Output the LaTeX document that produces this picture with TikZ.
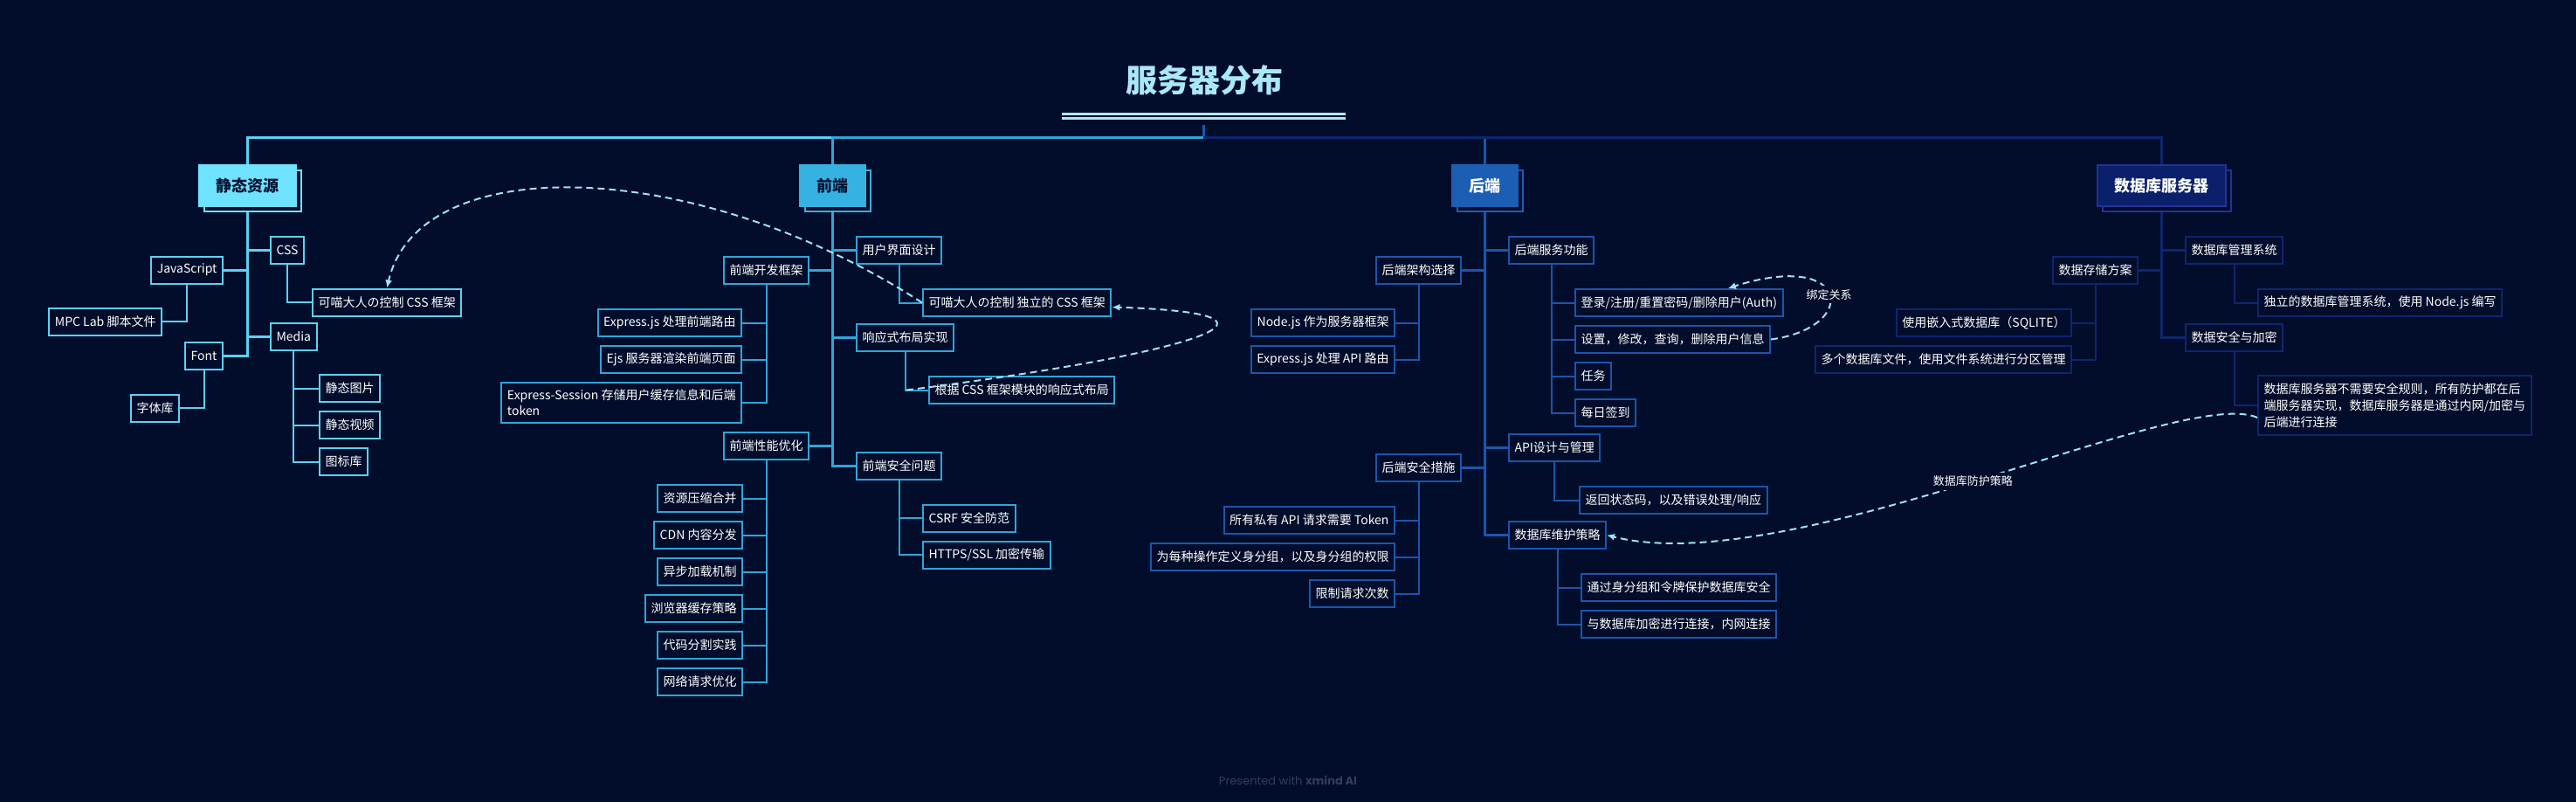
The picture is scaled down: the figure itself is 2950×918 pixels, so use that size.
\documentclass[tikz,border=0pt]{standalone}
\usepackage{fontspec}
\setmainfont{Noto Sans CJK SC}
\newfontfamily\creditfont{Poppins}
\usepackage{tikz}
\usetikzlibrary{arrows.meta, positioning, shadows, backgrounds}
\definecolor{mapbg}{RGB}{1,13,42}
\definecolor{titlecyan}{RGB}{170,232,248}
\definecolor{statfill}{RGB}{110,226,255}
\definecolor{statline}{RGB}{90,210,245}
\definecolor{frontfill}{RGB}{54,178,226}
\definecolor{frontline}{RGB}{46,166,216}
\definecolor{backfill}{RGB}{28,94,180}
\definecolor{backline}{RGB}{26,86,172}
\definecolor{dbfill}{RGB}{10,32,106}
\definecolor{dbline}{RGB}{14,38,112}
\definecolor{dbedge}{RGB}{36,50,150}
\definecolor{relcyan}{RGB}{160,226,245}
\definecolor{darktext}{RGB}{4,18,48}
\definecolor{footgray}{RGB}{52,62,88}

\begin{document}
\begin{tikzpicture}[
    x=1pt, y=-1pt,
    topic_base/.style={line width=2pt, minimum height=47pt, inner xsep=19.5pt, inner ysep=0pt, font=\fontsize{18}{22}\selectfont\bfseries},
    main_stat/.style={topic_base, fill=statfill, draw=statfill, text=darktext,
        copy shadow={shadow xshift=6pt, shadow yshift=-6pt, fill=mapbg, draw=statfill, line width=2pt}},
    main_front/.style={topic_base, fill=frontfill, draw=frontfill, text=darktext,
        copy shadow={shadow xshift=6pt, shadow yshift=-6pt, fill=mapbg, draw=frontfill, line width=2pt}},
    main_back/.style={topic_base, fill=backfill, draw=backfill, text=white,
        copy shadow={shadow xshift=6pt, shadow yshift=-6pt, fill=mapbg, draw=backfill, line width=2pt}},
    main_db/.style={topic_base, fill=dbfill, draw=dbedge, text=white,
        copy shadow={shadow xshift=6pt, shadow yshift=-6pt, fill=mapbg, draw=dbedge, line width=2pt}},
    leaf_base/.style={line width=2pt, fill=mapbg, text=white, minimum height=31pt, inner xsep=6.5pt, inner ysep=0pt, font=\fontsize{14}{18}\selectfont},
    leaf_stat/.style={leaf_base, draw=statline},
    leaf_front/.style={leaf_base, draw=frontline},
    leaf_back/.style={leaf_base, draw=backline},
    leaf_db/.style={leaf_base, draw=dbline},
    trunk_line/.style={line width=3pt},
    twig_line/.style={line width=2pt},
    relation/.style={draw=relcyan, line width=2pt, dash pattern=on 8pt off 5pt, -{Latex[length=9pt, width=8pt]}},
    rel_label/.style={fill=mapbg, text=white, inner sep=4pt, font=\fontsize{13}{15}\selectfont}
]

    % Canvas
    \begin{scope}[on background layer]
        \fill[mapbg] (0,0) rectangle (2950,918);
    \end{scope}
    \useasboundingbox (0,0) rectangle (2950,918);

    % Title with double rule
    \node[font=\fontsize{36}{40}\selectfont\bfseries, text=titlecyan] (title) at (1379,92) {服务器分布};
    \draw[titlecyan, line width=2.7pt, double=mapbg, double distance=2.7pt] (1216,133) -- (1541,133);
    \coordinate (stem_top) at (1378,143);
    \coordinate (hub) at (1378,157);

    % Main topics
    \node[main_stat] (stat) at (283,212.5) {静态资源};
    \node[main_front] (front) at (953.5,212.5) {前端};
    \node[main_back] (back) at (1700.5,212.5) {后端};
    \node[main_db] (db) at (2475,212.5) {数据库服务器};

    % 静态资源 branch
    \node[leaf_stat, anchor=west] (stat_css) at (309,286) {CSS};
    \node[leaf_stat, anchor=east] (stat_js) at (256,309) {JavaScript};
    \node[leaf_stat, anchor=west] (stat_media) at (309,385) {Media};
    \node[leaf_stat, anchor=east] (stat_font) at (256,407) {Font};
    \node[leaf_stat, anchor=west] (stat_css_fw) at (357,346) {可喵大人の控制 CSS 框架};
    \node[leaf_stat, anchor=east] (stat_js_mpc) at (186,368) {MPC Lab 脚本文件};
    \node[leaf_stat, anchor=east] (stat_font_lib) at (206,467) {字体库};
    \node[leaf_stat, anchor=west] (stat_img) at (365,444.5) {静态图片};
    \node[leaf_stat, below=9pt of stat_img.south west, anchor=north west] (stat_video) {静态视频};
    \node[leaf_stat, below=9pt of stat_video.south west, anchor=north west] (stat_icon) {图标库};

    % 前端 branch
    \node[leaf_front, anchor=west] (front_ui) at (980,286.5) {用户界面设计};
    \node[leaf_front, anchor=east] (front_dev) at (927,309.5) {前端开发框架};
    \node[leaf_front, anchor=west] (front_resp) at (980,386.5) {响应式布局实现};
    \node[leaf_front, anchor=east] (front_perf) at (927,510.5) {前端性能优化};
    \node[leaf_front, anchor=west] (front_sec) at (980,533) {前端安全问题};
    \node[leaf_front, anchor=west] (front_ui_css) at (1056,346.5) {可喵大人の控制 独立的 CSS 框架};
    \node[leaf_front, anchor=west] (front_resp_css) at (1063,446.5) {根据 CSS 框架模块的响应式布局};
    \node[leaf_front, anchor=east] (front_dev_route) at (850,369.5) {Express.js 处理前端路由};
    \node[leaf_front, below=9pt of front_dev_route.south east, anchor=north east] (front_dev_ejs) {Ejs 服务器渲染前端页面};
    \node[leaf_front, below=9pt of front_dev_ejs.south east, anchor=north east, align=left, inner ysep=8pt] (front_dev_session) {Express-Session 存储用户缓存信息和后端\\token};
    \node[leaf_front, anchor=east] (front_perf_zip) at (851,570.5) {资源压缩合并};
    \node[leaf_front, below=9pt of front_perf_zip.south east, anchor=north east] (front_perf_cdn) {CDN 内容分发};
    \node[leaf_front, below=9pt of front_perf_cdn.south east, anchor=north east] (front_perf_async) {异步加载机制};
    \node[leaf_front, below=9pt of front_perf_async.south east, anchor=north east] (front_perf_cache) {浏览器缓存策略};
    \node[leaf_front, below=9pt of front_perf_cache.south east, anchor=north east] (front_perf_split) {代码分割实践};
    \node[leaf_front, below=9pt of front_perf_split.south east, anchor=north east] (front_perf_net) {网络请求优化};
    \node[leaf_front, anchor=west] (front_sec_csrf) at (1056,593) {CSRF 安全防范};
    \node[leaf_front, below=9pt of front_sec_csrf.south west, anchor=north west] (front_sec_https) {HTTPS/SSL 加密传输};

    % 后端 branch
    \node[leaf_back, anchor=west] (back_svc) at (1727,286.5) {后端服务功能};
    \node[leaf_back, anchor=east] (back_arch) at (1674,309.5) {后端架构选择};
    \node[leaf_back, anchor=west] (back_api) at (1727,512.5) {API设计与管理};
    \node[leaf_back, anchor=east] (back_sec) at (1674,535.5) {后端安全措施};
    \node[leaf_back, anchor=west] (back_dbm) at (1727,612.5) {数据库维护策略};
    \node[leaf_back, anchor=west] (back_svc_auth) at (1803,346.5) {登录/注册/重置密码/删除用户(Auth)};
    \node[leaf_back, below=9pt of back_svc_auth.south west, anchor=north west] (back_svc_info) {设置，修改，查询，删除用户信息};
    \node[leaf_back, below=9pt of back_svc_info.south west, anchor=north west] (back_svc_task) {任务};
    \node[leaf_back, below=9pt of back_svc_task.south west, anchor=north west] (back_svc_sign) {每日签到};
    \node[leaf_back, anchor=east] (back_arch_node) at (1598,369.5) {Node.js 作为服务器框架};
    \node[leaf_back, below=9pt of back_arch_node.south east, anchor=north east] (back_arch_express) {Express.js 处理 API 路由};
    \node[leaf_back, anchor=west] (back_api_code) at (1808,572.5) {返回状态码，以及错误处理/响应};
    \node[leaf_back, anchor=east] (back_sec_token) at (1598,595.5) {所有私有 API 请求需要 Token};
    \node[leaf_back, below=9pt of back_sec_token.south east, anchor=north east] (back_sec_group) {为每种操作定义身分组，以及身分组的权限};
    \node[leaf_back, below=9pt of back_sec_group.south east, anchor=north east] (back_sec_limit) {限制请求次数};
    \node[leaf_back, anchor=west] (back_dbm_guard) at (1810,672.5) {通过身分组和令牌保护数据库安全};
    \node[leaf_back, below=9pt of back_dbm_guard.south west, anchor=north west] (back_dbm_link) {与数据库加密进行连接，内网连接};

    % 数据库服务器 branch
    \node[leaf_db, anchor=west] (db_mgmt) at (2502,286.5) {数据库管理系统};
    \node[leaf_db, anchor=east] (db_store) at (2449,309.5) {数据存储方案};
    \node[leaf_db, anchor=west] (db_sec) at (2502,386.5) {数据安全与加密};
    \node[leaf_db, anchor=west] (db_mgmt_node) at (2585,346.5) {独立的数据库管理系统，使用 Node.js 编写};
    \node[leaf_db, anchor=west, align=left, inner ysep=8pt, font=\fontsize{14}{19}\selectfont] (db_sec_note) at (2585,464)
        {数据库服务器不需要安全规则，所有防护都在后\\端服务器实现，数据库服务器是通过内网/加密与\\后端进行连接};
    \node[leaf_db, anchor=east] (db_store_sqlite) at (2373,369.5) {使用嵌入式数据库（SQLITE）};
    \node[leaf_db, below=9pt of db_store_sqlite.south east, anchor=north east] (db_store_files) {多个数据库文件，使用文件系统进行分区管理};

    % Footer
    \node[font=\creditfont\fontsize{13}{15}\selectfont, text=footgray] (credit) at (1475,893) {Presented with \textbf{xmind AI}};

    % Connectors behind the boxes
    \begin{scope}[on background layer]
        \draw[trunk_line, backline] (stem_top) -- (hub);
        \draw[trunk_line, statline] (hub) -| (stat.north);
        \draw[trunk_line, frontline] (hub) -| (front.north);
        \draw[trunk_line, backline] (hub) -| (back.north);
        \draw[trunk_line, dbline] (hub) -| (db.north);

        \draw[trunk_line, statline] (stat.south) |- (stat_css.west);
        \draw[trunk_line, statline] (stat.south) |- (stat_js.east);
        \draw[trunk_line, statline] (stat.south) |- (stat_media.west);
        \draw[trunk_line, statline] (stat.south) |- (stat_font.east);
        \draw[twig_line, statline] (stat_css.south) |- (stat_css_fw.west);
        \draw[twig_line, statline] (stat_js.south) |- (stat_js_mpc.east);
        \draw[twig_line, statline] (stat_font.south) |- (stat_font_lib.east);
        \draw[twig_line, statline] (stat_media.south) |- (stat_img.west);
        \draw[twig_line, statline] (stat_media.south) |- (stat_video.west);
        \draw[twig_line, statline] (stat_media.south) |- (stat_icon.west);

        \draw[trunk_line, frontline] (front.south) |- (front_ui.west);
        \draw[trunk_line, frontline] (front.south) |- (front_dev.east);
        \draw[trunk_line, frontline] (front.south) |- (front_resp.west);
        \draw[trunk_line, frontline] (front.south) |- (front_perf.east);
        \draw[trunk_line, frontline] (front.south) |- (front_sec.west);
        \draw[twig_line, frontline] (front_ui.south) |- (front_ui_css.west);
        \draw[twig_line, frontline] (front_resp.south) |- (front_resp_css.west);
        \draw[twig_line, frontline] (front_dev.south) |- (front_dev_route.east);
        \draw[twig_line, frontline] (front_dev.south) |- (front_dev_ejs.east);
        \draw[twig_line, frontline] (front_dev.south) |- (front_dev_session.east);
        \draw[twig_line, frontline] (front_perf.south) |- (front_perf_zip.east);
        \draw[twig_line, frontline] (front_perf.south) |- (front_perf_cdn.east);
        \draw[twig_line, frontline] (front_perf.south) |- (front_perf_async.east);
        \draw[twig_line, frontline] (front_perf.south) |- (front_perf_cache.east);
        \draw[twig_line, frontline] (front_perf.south) |- (front_perf_split.east);
        \draw[twig_line, frontline] (front_perf.south) |- (front_perf_net.east);
        \draw[twig_line, frontline] (front_sec.south) |- (front_sec_csrf.west);
        \draw[twig_line, frontline] (front_sec.south) |- (front_sec_https.west);

        \draw[trunk_line, backline] (back.south) |- (back_svc.west);
        \draw[trunk_line, backline] (back.south) |- (back_arch.east);
        \draw[trunk_line, backline] (back.south) |- (back_api.west);
        \draw[trunk_line, backline] (back.south) |- (back_sec.east);
        \draw[trunk_line, backline] (back.south) |- (back_dbm.west);
        \draw[twig_line, backline] (back_svc.south) |- (back_svc_auth.west);
        \draw[twig_line, backline] (back_svc.south) |- (back_svc_info.west);
        \draw[twig_line, backline] (back_svc.south) |- (back_svc_task.west);
        \draw[twig_line, backline] (back_svc.south) |- (back_svc_sign.west);
        \draw[twig_line, backline] (back_arch.south) |- (back_arch_node.east);
        \draw[twig_line, backline] (back_arch.south) |- (back_arch_express.east);
        \draw[twig_line, backline] (back_api.south) |- (back_api_code.west);
        \draw[twig_line, backline] (back_sec.south) |- (back_sec_token.east);
        \draw[twig_line, backline] (back_sec.south) |- (back_sec_group.east);
        \draw[twig_line, backline] (back_sec.south) |- (back_sec_limit.east);
        \draw[twig_line, backline] (back_dbm.south) |- (back_dbm_guard.west);
        \draw[twig_line, backline] (back_dbm.south) |- (back_dbm_link.west);

        \draw[trunk_line, dbline] (db.south) |- (db_mgmt.west);
        \draw[trunk_line, dbline] (db.south) |- (db_store.east);
        \draw[trunk_line, dbline] (db.south) |- (db_sec.west);
        \draw[twig_line, dbline] (db_mgmt.south) |- (db_mgmt_node.west);
        \draw[twig_line, dbline] (db_sec.south) |- (db_sec_note.west);
        \draw[twig_line, dbline] (db_store.south) |- (db_store_sqlite.east);
        \draw[twig_line, dbline] (db_store.south) |- (db_store_files.east);
    \end{scope}

    % Relationship curves
    \draw[relation] (front_ui_css.west) .. controls (800,180) and (480,170) .. (stat_css_fw.north);
    \draw[relation] ([xshift=-25pt]front_resp_css.west) .. controls (1330,410) and (1530,360) .. ([yshift=-5pt]front_ui_css.east);
    \draw[relation] (back_svc_info.east) .. controls (2130,375) and (2120,285)
        .. node[rel_label] {绑定关系} ([xshift=56pt]back_svc_auth.north);
    \draw[relation] ([yshift=-14pt]db_sec_note.west) .. controls (2500,440) and (2050,665)
        .. node[rel_label] {数据库防护策略} (back_dbm.east);

\end{tikzpicture}
\end{document}
